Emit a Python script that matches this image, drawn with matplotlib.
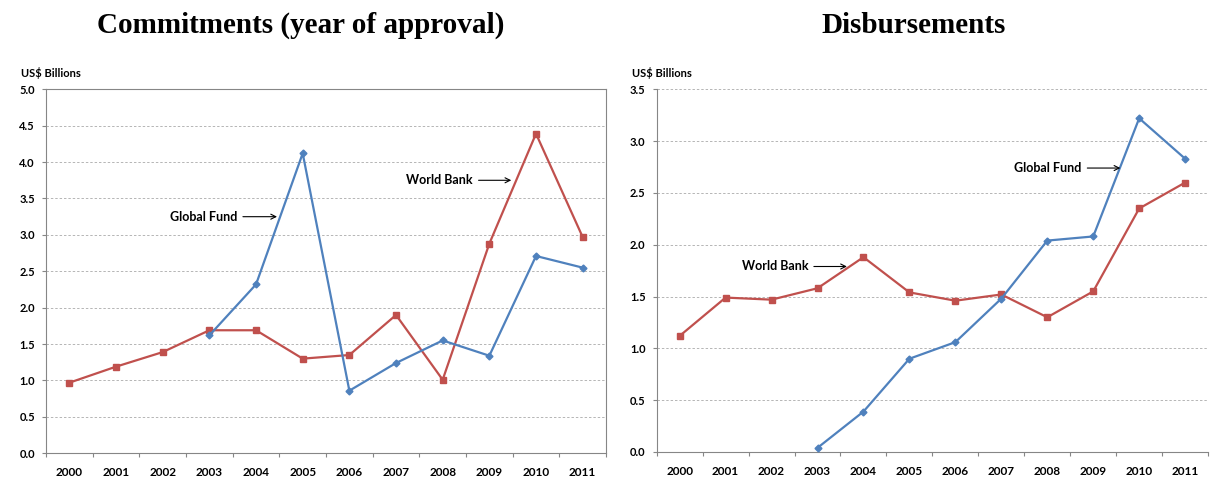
import matplotlib.pyplot as plt
from matplotlib.ticker import FixedLocator, NullFormatter

years = ['2000', '2001', '2002', '2003', '2004', '2005',
         '2006', '2007', '2008', '2009', '2010', '2011']

# Commitments (year of approval), US$ billions
wb_commit = [0.97, 1.19, 1.39, 1.69, 1.69, 1.30, 1.35, 1.90, 1.01, 2.88, 4.39, 2.97]
gf_commit = [None, None, None, 1.62, 2.32, 4.12, 0.86, 1.24, 1.55, 1.34, 2.71, 2.55]

# Disbursements, US$ billions
wb_disb = [1.12, 1.49, 1.47, 1.58, 1.88, 1.54, 1.46, 1.52, 1.30, 1.55, 2.35, 2.60]
gf_disb = [None, None, None, 0.04, 0.39, 0.90, 1.06, 1.48, 2.04, 2.08, 3.22, 2.83]

RED = '#C0504D'
BLUE = '#4F81BD'
SANS = ['Lato', 'DejaVu Sans']
SERIF = ['Liberation Serif', 'DejaVu Serif']

fig = plt.figure(figsize=(12.12, 4.78), dpi=100)
ax1 = fig.add_axes([0.038, 0.0517, 0.462, 0.7615])
ax2 = fig.add_axes([0.5418, 0.0544, 0.455, 0.7588])


def series(vals):
    xs = [i for i, v in enumerate(vals) if v is not None]
    ys = [v for v in vals if v is not None]
    return xs, ys


def setup(ax, ymax, box):
    ax.set_xlim(-0.5, len(years) - 0.5)
    ax.set_ylim(0, ymax)
    ax.set_yticks([i * 0.5 for i in range(int(ymax / 0.5) + 1)])
    ax.set_yticklabels(['%.1f' % (i * 0.5) for i in range(int(ymax / 0.5) + 1)],
                       fontfamily=SANS, fontweight='bold', fontsize=8)
    ax.xaxis.set_major_locator(FixedLocator([i - 0.5 for i in range(len(years) + 1)]))
    ax.xaxis.set_major_formatter(NullFormatter())
    ax.xaxis.set_minor_locator(FixedLocator(range(len(years))))
    ax.set_xticklabels(years, minor=True, fontfamily=SANS, fontweight='bold', fontsize=8.5)
    ax.tick_params(axis='x', which='major', length=3, direction='out', color='#868686')
    ax.tick_params(axis='x', which='minor', length=0, pad=10)
    ax.tick_params(axis='y', length=3, direction='out', color='#868686', pad=5)
    ax.grid(axis='y', color='#b5b5b5', linestyle=(0, (2.5, 2)), linewidth=0.7)
    ax.set_axisbelow(True)
    for s in ['left', 'bottom']:
        ax.spines[s].set_color('#868686')
    for s in ['top', 'right']:
        ax.spines[s].set_visible(box)
        ax.spines[s].set_color('#868686')
    ax.text(-0.045, 1.045, 'US$ Billions', transform=ax.transAxes, ha='left',
            va='center', fontfamily=SANS, fontweight='bold', fontsize=8)


def draw(ax, wb, gf):
    x, y = series(wb)
    ax.plot(x, y, color=RED, lw=1.6, marker='s', markersize=4.5, zorder=3)
    x, y = series(gf)
    ax.plot(x, y, color=BLUE, lw=1.6, marker='D', markersize=3.5, zorder=3)


def label(ax, text, tip, end):
    ax.annotate(text, xy=tip, xytext=end, ha='right', va='center',
                fontfamily=SANS, fontweight='bold', fontsize=9,
                arrowprops=dict(arrowstyle='->', color='black', lw=0.8,
                                shrinkA=2, shrinkB=0))


setup(ax1, 5.0, True)
draw(ax1, wb_commit, gf_commit)
label(ax1, 'Global Fund', (4.45, 3.25), (3.6, 3.25))
label(ax1, 'World Bank', (9.47, 3.75), (8.65, 3.75))

setup(ax2, 3.5, False)
draw(ax2, wb_disb, gf_disb)
label(ax2, 'World Bank', (3.64, 1.79), (2.8, 1.79))
label(ax2, 'Global Fund', (9.59, 2.74), (8.75, 2.74))

fig.text(0.2485, 0.947, 'Commitments (year of approval)', ha='center', va='center',
         fontfamily=SERIF, fontweight='bold', fontsize=21)
fig.text(0.7535, 0.947, 'Disbursements', ha='center', va='center',
         fontfamily=SERIF, fontweight='bold', fontsize=21)

fig.savefig('out.png', dpi=100)
